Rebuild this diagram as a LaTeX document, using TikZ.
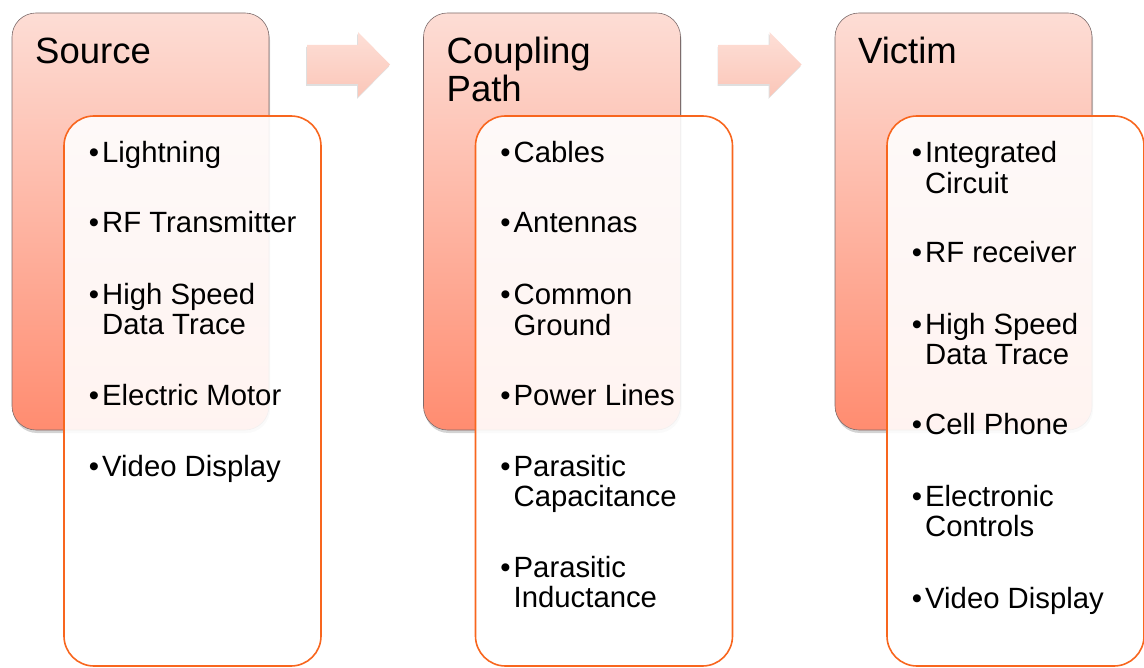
\documentclass[tikz,border=0pt]{standalone}
\usepackage{fontspec}
\setmainfont{Liberation Sans}
\usetikzlibrary{shadows}
\definecolor{stagetop}{RGB}{253,221,213}
\definecolor{stagebot}{RGB}{255,140,112}
\definecolor{arrowtop}{RGB}{253,223,215}
\definecolor{arrowbot}{RGB}{251,198,184}
\definecolor{listedge}{RGB}{248,102,30}
\definecolor{stageedge}{RGB}{125,108,108}
\newcommand{\bul}{\llap{\textbullet\hspace{3pt}}}
\newcommand{\lines}[1]{\begin{tabular}[t]{@{}l@{}}#1\end{tabular}}

\begin{document}
\begin{tikzpicture}[x=1pt,y=-1pt,
  stagebox/.style={rounded corners=24pt,draw=stageedge,line width=.6pt,
    top color=stagetop,bottom color=stagebot,minimum width=257pt,
    minimum height=417pt,inner sep=0pt,
    drop shadow={opacity=.35,shadow xshift=1pt,shadow yshift=-3pt}},
  listbox/.style={rounded corners=30pt,draw=listedge,line width=1.6pt,
    fill=white,fill opacity=.9,minimum width=257pt,minimum height=550pt,
    inner sep=0pt},
  stagetitle/.style={anchor=base west,inner sep=0pt,
    font=\fontsize{36.5}{36.5}\selectfont},
  item/.style={anchor=base west,inner sep=0pt,
    font=\fontsize{29.3}{30}\selectfont},
  blockarrow/.style={top color=arrowtop,bottom color=arrowbot,draw=none,
    drop shadow={opacity=.25,shadow xshift=-1pt,shadow yshift=-2pt}}]
\useasboundingbox (0,0) rectangle (1144,668);
\begin{scope}
  \node[stagebox] (srcbox) at (140.5,221.5) {};
  \node[stagetitle] (srctitle) at (35,64) {Source};
  \node[listbox] (srclist) at (192.5,391) {};
  \node[item] (src1) at (102,163) {\bul Lightning};
  \node[item] (src2) at (102,233) {\bul RF Transmitter};
  \node[item] (src3) at (102,305) {\lines{\bul High Speed\\Data Trace}};
  \node[item] (src4) at (102,406) {\bul Electric Motor};
  \node[item] (src5) at (102,476) {\bul Video Display};
  \path[blockarrow] (307,45) coordinate (a1) -- (358,45) -- (358,32)
    -- (390,64.5) coordinate (a1tip) -- (358,97) -- (358,84) -- (307,84) -- cycle;
\end{scope}
\begin{scope}[xshift=411.5pt]
  \node[stagebox] (cplbox) at (140.5,221.5) {};
  \node[stagetitle] (cpltitle) at (35,64) {\lines{Coupling\\Path}};
  \node[listbox] (cpllist) at (192.5,391) {};
  \node[item] (cpl1) at (102,163) {\bul Cables};
  \node[item] (cpl2) at (102,233) {\bul Antennas};
  \node[item] (cpl3) at (102,305) {\lines{\bul Common\\Ground}};
  \node[item] (cpl4) at (102,406) {\bul Power Lines};
  \node[item] (cpl5) at (102,476) {\lines{\bul Parasitic\\Capacitance}};
  \node[item] (cpl6) at (102,577) {\lines{\bul Parasitic\\Inductance}};
  \path[blockarrow] (307,45) coordinate (a2) -- (358,45) -- (358,32)
    -- (390,64.5) coordinate (a2tip) -- (358,97) -- (358,84) -- (307,84) -- cycle;
\end{scope}
\begin{scope}[xshift=823pt]
  \node[stagebox] (vicbox) at (140.5,221.5) {};
  \node[stagetitle] (victitle) at (35,64) {Victim};
  \node[listbox] (viclist) at (192.5,391) {};
  \node[item] (vic1) at (102,163) {\lines{\bul Integrated\\Circuit}};
  \node[item] (vic2) at (102,263) {\bul RF receiver};
  \node[item] (vic3) at (102,335) {\lines{\bul High Speed\\Data Trace}};
  \node[item] (vic4) at (102,435) {\bul Cell Phone};
  \node[item] (vic5) at (102,506) {\lines{\bul Electronic\\Controls}};
  \node[item] (vic6) at (102,608) {\bul Video Display};
\end{scope}
\end{tikzpicture}
\end{document}
